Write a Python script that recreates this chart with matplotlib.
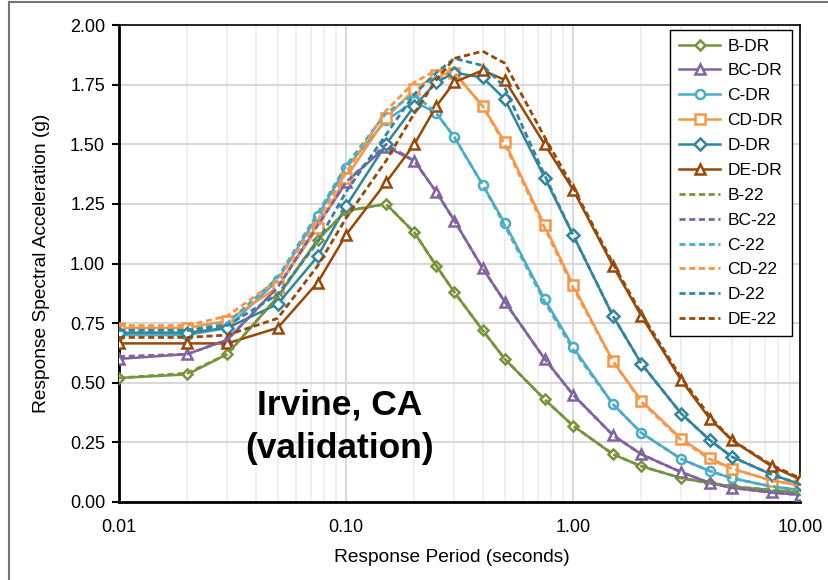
import matplotlib
matplotlib.use('Agg')
import matplotlib.pyplot as plt
from matplotlib.ticker import FixedLocator, FormatStrFormatter, NullFormatter
from matplotlib.lines import Line2D

plt.rcParams['font.family'] = ['Liberation Sans', 'DejaVu Sans']

# Response periods (seconds)
periods = [0.01, 0.02, 0.03, 0.05, 0.075, 0.1, 0.15, 0.2, 0.25, 0.3, 0.4, 0.5,
           0.75, 1.0, 1.5, 2.0, 3.0, 4.0, 5.0, 7.5, 10.0]

# DR spectra (g)
b_dr = [0.52, 0.535, 0.62, 0.86, 1.10, 1.22, 1.25, 1.13, 0.99, 0.88, 0.72, 0.60,
        0.43, 0.32, 0.20, 0.15, 0.10, 0.08, 0.065, 0.05, 0.04]
bc_dr = [0.60, 0.62, 0.68, 0.90, 1.16, 1.34, 1.49, 1.43, 1.30, 1.18, 0.98, 0.84,
         0.60, 0.45, 0.28, 0.20, 0.125, 0.08, 0.06, 0.04, 0.03]
c_dr = [0.70, 0.70, 0.73, 0.93, 1.20, 1.40, 1.60, 1.68, 1.63, 1.53, 1.33, 1.17,
        0.85, 0.65, 0.41, 0.29, 0.18, 0.13, 0.10, 0.065, 0.05]
cd_dr = [0.73, 0.73, 0.76, 0.90, 1.15, 1.36, 1.61, 1.73, 1.79, 1.80, 1.66, 1.51,
         1.16, 0.91, 0.59, 0.425, 0.265, 0.185, 0.14, 0.09, 0.07]
d_dr = [0.71, 0.71, 0.73, 0.83, 1.03, 1.24, 1.50, 1.66, 1.76, 1.80, 1.78, 1.69,
        1.36, 1.12, 0.78, 0.58, 0.37, 0.26, 0.19, 0.115, 0.075]
de_dr = [0.665, 0.665, 0.665, 0.73, 0.92, 1.12, 1.34, 1.50, 1.66, 1.76, 1.81, 1.77,
         1.50, 1.31, 0.99, 0.78, 0.51, 0.35, 0.26, 0.15, 0.095]

# 2022 spectra (g)
b_22 = [0.52, 0.54, 0.62, 0.86, 1.10, 1.22, 1.25, 1.13, 0.99, 0.88, 0.72, 0.60,
        0.43, 0.32, 0.20, 0.15, 0.10, 0.08, 0.065, 0.05, 0.04]
bc_22 = [0.61, 0.62, 0.68, 0.90, 1.16, 1.34, 1.50, 1.43, 1.30, 1.18, 0.98, 0.84,
         0.60, 0.45, 0.28, 0.20, 0.125, 0.08, 0.06, 0.04, 0.03]
c_22 = [0.72, 0.72, 0.75, 0.94, 1.21, 1.41, 1.63, 1.71, 1.63, 1.53, 1.33, 1.16,
        0.84, 0.64, 0.41, 0.29, 0.18, 0.13, 0.10, 0.065, 0.05]
cd_22 = [0.74, 0.74, 0.78, 0.93, 1.18, 1.38, 1.64, 1.76, 1.81, 1.80, 1.66, 1.50,
         1.15, 0.90, 0.59, 0.42, 0.26, 0.18, 0.14, 0.09, 0.07]
d_22 = [0.72, 0.72, 0.74, 0.87, 1.09, 1.30, 1.54, 1.71, 1.80, 1.86, 1.83, 1.74,
        1.37, 1.12, 0.78, 0.58, 0.37, 0.26, 0.19, 0.115, 0.075]
de_22 = [0.69, 0.69, 0.70, 0.77, 0.99, 1.19, 1.43, 1.63, 1.77, 1.86, 1.89, 1.84,
         1.53, 1.32, 1.00, 0.79, 0.52, 0.36, 0.26, 0.155, 0.10]

site_classes = ['B', 'BC', 'C', 'CD', 'D', 'DE']
colors = ['#77933C', '#8064A2', '#4BACC6', '#F79646', '#31859C', '#984807']
markers = ['D', '^', 'o', 's', 'D', '^']
msizes = [5, 7.5, 6.5, 6.5, 6.5, 7.5]
dr_series = [b_dr, bc_dr, c_dr, cd_dr, d_dr, de_dr]
series_22 = [b_22, bc_22, c_22, cd_22, d_22, de_22]

fig = plt.figure(figsize=(8.29, 5.80), dpi=100)
ax = fig.add_axes([119 / 829, 1 - 502 / 580, 681 / 829, 477 / 580])

for name, vals, c, m, ms in zip(site_classes, dr_series, colors, markers, msizes):
    ax.plot(periods, vals, color=c, lw=1.8, marker=m, ms=ms, mfc='white',
            mec=c, mew=1.8, label=name + '-DR', zorder=3)
for name, vals, c in zip(site_classes, series_22, colors):
    ax.plot(periods, vals, color=c, lw=2.0, ls=(0, (2.2, 1.3)),
            label=name + '-22', zorder=4)

ax.set_xscale('log')
ax.set_xlim(0.01, 10)
ax.set_ylim(0, 2.0)
ax.xaxis.set_major_locator(FixedLocator([0.01, 0.1, 1, 10]))
ax.xaxis.set_major_formatter(FormatStrFormatter('%.2f'))
ax.xaxis.set_minor_formatter(NullFormatter())
ax.set_yticks([0, 0.25, 0.5, 0.75, 1.0, 1.25, 1.5, 1.75, 2.0])
ax.yaxis.set_major_formatter(FormatStrFormatter('%.2f'))

ax.grid(True, which='major', axis='both', color='#d9d9d9', lw=1.5, zorder=0)
ax.grid(True, which='minor', axis='x', color='#eeeeee', lw=1.3, zorder=0)
ax.set_axisbelow(True)

ax.tick_params(axis='y', which='major', direction='out', length=5, width=1.5,
               labelsize=13, colors='black', pad=5)
ax.tick_params(axis='x', which='both', length=0, labelsize=13, pad=12)

for side in ['left', 'bottom']:
    ax.spines[side].set_linewidth(2.0)
for side in ['top', 'right']:
    ax.spines[side].set_linewidth(1.2)

ax.set_xlabel('Response Period (seconds)', fontsize=13.8)
ax.set_ylabel('Response Spectral Acceleration (g)', fontsize=13.8)
ax.xaxis.set_label_coords((452 - 119) / 681, -(557 - 502) / 477)
ax.yaxis.set_label_coords((41 - 119) / 681, 0.5)
ax.xaxis.label.set_va('center')
ax.yaxis.label.set_va('center')

ax.text(0.094, 0.405, 'Irvine, CA', fontsize=25.5, fontweight='bold',
        ha='center', va='center')
ax.text(0.094, 0.225, '(validation)', fontsize=25.5, fontweight='bold',
        ha='center', va='center')

leg = ax.legend(loc='upper right', bbox_to_anchor=(0.988, 0.99), fontsize=12.5,
                frameon=True, fancybox=False, framealpha=1, edgecolor='black',
                handlelength=2.4, labelspacing=0.56, handletextpad=0.4,
                borderpad=0.5, borderaxespad=0)
leg.get_frame().set_linewidth(1.0)

# outer chart border
fig.add_artist(Line2D([9 / 829, 9 / 829], [0, 1 - 2 / 580], color='#767676', lw=1.5))
fig.add_artist(Line2D([9 / 829, 1], [1 - 2 / 580, 1 - 2 / 580], color='#767676', lw=1.5))

fig.savefig('out.png', dpi=100)
